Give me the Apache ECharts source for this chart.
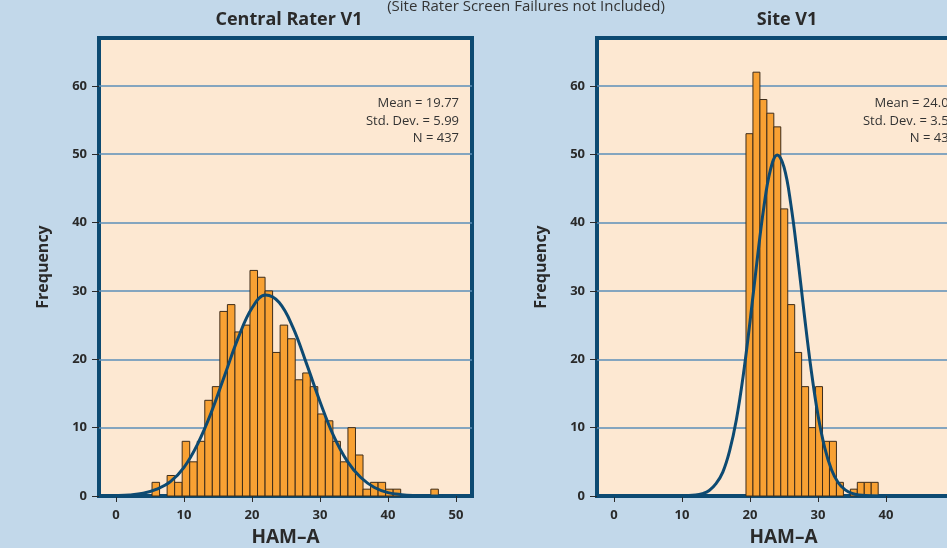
<!DOCTYPE html>
<html>
<head>
<meta charset="utf-8">
<script src="https://cdn.jsdelivr.net/npm/echarts@6/dist/echarts.min.js"></script>
<style>
    html, body { margin: 0; padding: 0; background: #c2d8ea; }
    #main { width: 947px; height: 548px; }
</style>
</head>
<body>
<div id="main"></div>
<script>
// tick values shared by both panels
var xTicks = [0, 10, 20, 30, 40, 50];
var yTicks = [0, 10, 20, 30, 40, 50, 60];

// Central Rater V1 histogram
var centralBinStart = 5.3;
var centralBinWidth = 1.108;
var centralCounts = [2, 0, 3, 2, 8, 5, 8, 14, 16, 27, 28, 24, 25, 33, 32, 30, 21, 25, 23,
    17, 18, 16, 12, 11, 8, 5, 10, 6, 1, 2, 2, 1, 1, 0, 0, 0, 0, 1];
// normal curve
var centralCurveX = [-2, 0, 2, 4, 6, 8, 10, 12, 14, 16, 18, 20, 22, 24, 26, 28, 30, 32, 34, 36, 38, 40, 42, 44, 46, 48];
var centralCurveY = [0.02, 0.05, 0.15, 0.4, 1.0, 2.1, 4.2, 7.6, 12.2, 17.7, 23.2, 27.5, 29.4, 28.3, 24.7, 19.4,
    13.8, 8.8, 5.1, 2.7, 1.25, 0.5, 0.2, 0.07, 0.02, 0.01];
var centralStats = ['Mean = 19.77', 'Std. Dev. = 5.99', 'N = 437'];

// Site V1 histogram
var siteBinStart = 19.41;
var siteBinWidth = 1.023;
var siteCounts = [53, 62, 58, 56, 54, 42, 28, 21, 16, 10, 16, 8, 8, 2, 0, 1, 2, 2, 2];
var siteCurveX = [-2, 4, 8, 10, 12, 13, 14, 15, 16, 17, 18, 19, 20, 21, 22, 23, 24, 25, 26, 27, 28,
    29, 30, 31, 32, 33, 34, 35, 36, 38, 40];
var siteCurveY = [0, 0, 0, 0.01, 0.13, 0.34, 0.8, 1.8, 3.5, 6.6, 11.2, 17.6, 25.5, 34.1, 42.0, 47.7, 49.9,
    48.1, 42.7, 35.0, 26.4, 18.4, 11.8, 7.0, 3.8, 1.9, 0.9, 0.37, 0.15, 0.02, 0];
var siteStats = ['Mean = 24.03', 'Std. Dev. = 3.50', 'N = 437'];

var frameColor = '#0d4a72';
var fontName = '"Open Sans", "Noto Sans", sans-serif';

function binData(start, width, counts) {
    var out = [];
    for (var i = 0; i < counts.length; i++) {
        out.push([start + i * width, counts[i]]);
    }
    return out;
}

function curveData(xs, ys) {
    var out = [];
    for (var i = 0; i < xs.length; i++) out.push([xs[i], ys[i]]);
    return out;
}

function barRender(width) {
    return function (params, api) {
        var x0 = api.value(0);
        var n = api.value(1);
        if (!n) return;
        var p0 = api.coord([x0, n]);
        var p1 = api.coord([x0 + width, 0]);
        return {
            type: 'rect',
            shape: { x: p0[0], y: p0[1], width: p1[0] - p0[0], height: p1[1] - p0[1] },
            style: { fill: '#f8a133', stroke: '#3d2c1a', lineWidth: 1 }
        };
    };
}

function makeX(index) {
    return {
        type: 'value', gridIndex: index, min: -2.5, max: 52.35,
        name: 'HAM\u2013A', nameLocation: 'middle', nameGap: 32,
        nameTextStyle: { fontFamily: fontName, fontWeight: 'bold', fontSize: 19, color: '#2a2a2a' },
        axisLine: { show: true, onZero: false, lineStyle: { color: frameColor, width: 4 } },
        axisTick: { show: true, customValues: xTicks, length: 6, lineStyle: { color: '#2a2a2a', width: 1 } },
        axisLabel: { customValues: xTicks, fontFamily: fontName, fontWeight: 'bold', fontSize: 13, color: '#2a2a2a', margin: 13 },
        splitLine: { show: false }
    };
}

function makeY(index) {
    return {
        type: 'value', gridIndex: index, min: 0, max: 67,
        name: 'Frequency', nameLocation: 'middle', nameGap: 48,
        nameTextStyle: { fontFamily: fontName, fontWeight: 'bold', fontSize: 16, color: '#2a2a2a' },
        axisLine: { show: false, onZero: false },
        axisTick: { show: true, customValues: yTicks, length: 7, lineStyle: { color: '#2a2a2a', width: 1 } },
        axisLabel: { customValues: yTicks, fontFamily: fontName, fontWeight: 'bold', fontSize: 13, color: '#2a2a2a', margin: 12 },
        splitLine: { show: true, lineStyle: { color: '#5b8fb8', width: 1.5 } }
    };
}

function statTexts(stats, right) {
    var out = [];
    for (var i = 0; i < stats.length; i++) {
        out.push({
            type: 'text', right: right, top: 97 + i * 17.5,
            style: { text: stats[i], fill: '#333', font: '13px ' + fontName, textAlign: 'right' }
        });
    }
    return out;
}

var chart = echarts.init(document.getElementById('main'));
chart.setOption({
    backgroundColor: '#c2d8ea',
    animation: false,
    title: [
        { text: '(Site Rater Screen Failures not Included)', left: 521, top: -6, textAlign: 'center',
          textStyle: { fontFamily: fontName, fontWeight: 'normal', fontSize: 15, color: '#333' } },
        { text: 'Central Rater V1', left: 284, top: 6, textAlign: 'center',
          textStyle: { fontFamily: fontName, fontWeight: 'bold', fontSize: 18, color: '#2a2a2a' } },
        { text: 'Site V1', left: 782, top: 6, textAlign: 'center',
          textStyle: { fontFamily: fontName, fontWeight: 'bold', fontSize: 18, color: '#2a2a2a' } }
    ],
    grid: [
        { left: 99, top: 38, width: 373, height: 458, show: true, backgroundColor: '#fde8d2',
          borderColor: frameColor, borderWidth: 4, outerBoundsMode: 'none', containLabel: false },
        { left: 597, top: 38, width: 373, height: 458, show: true, backgroundColor: '#fde8d2',
          borderColor: frameColor, borderWidth: 4, outerBoundsMode: 'none', containLabel: false }
    ],
    xAxis: [makeX(0), makeX(1)],
    yAxis: [makeY(0), makeY(1)],
    graphic: statTexts(centralStats, 947 - 459).concat(statTexts(siteStats, -9)),
    series: [
        { type: 'custom', xAxisIndex: 0, yAxisIndex: 0, renderItem: barRender(centralBinWidth),
          encode: { x: 0, y: 1 }, data: binData(centralBinStart, centralBinWidth, centralCounts), z: 2 },
        { type: 'line', xAxisIndex: 0, yAxisIndex: 0, data: curveData(centralCurveX, centralCurveY),
          smooth: 0.4, showSymbol: false, lineStyle: { color: frameColor, width: 3 }, z: 3 },
        { type: 'custom', xAxisIndex: 1, yAxisIndex: 1, renderItem: barRender(siteBinWidth),
          encode: { x: 0, y: 1 }, data: binData(siteBinStart, siteBinWidth, siteCounts), z: 2 },
        { type: 'line', xAxisIndex: 1, yAxisIndex: 1, data: curveData(siteCurveX, siteCurveY),
          smooth: 0.4, showSymbol: false, lineStyle: { color: frameColor, width: 3 }, z: 3 }
    ]
});
</script>
</body>
</html>
